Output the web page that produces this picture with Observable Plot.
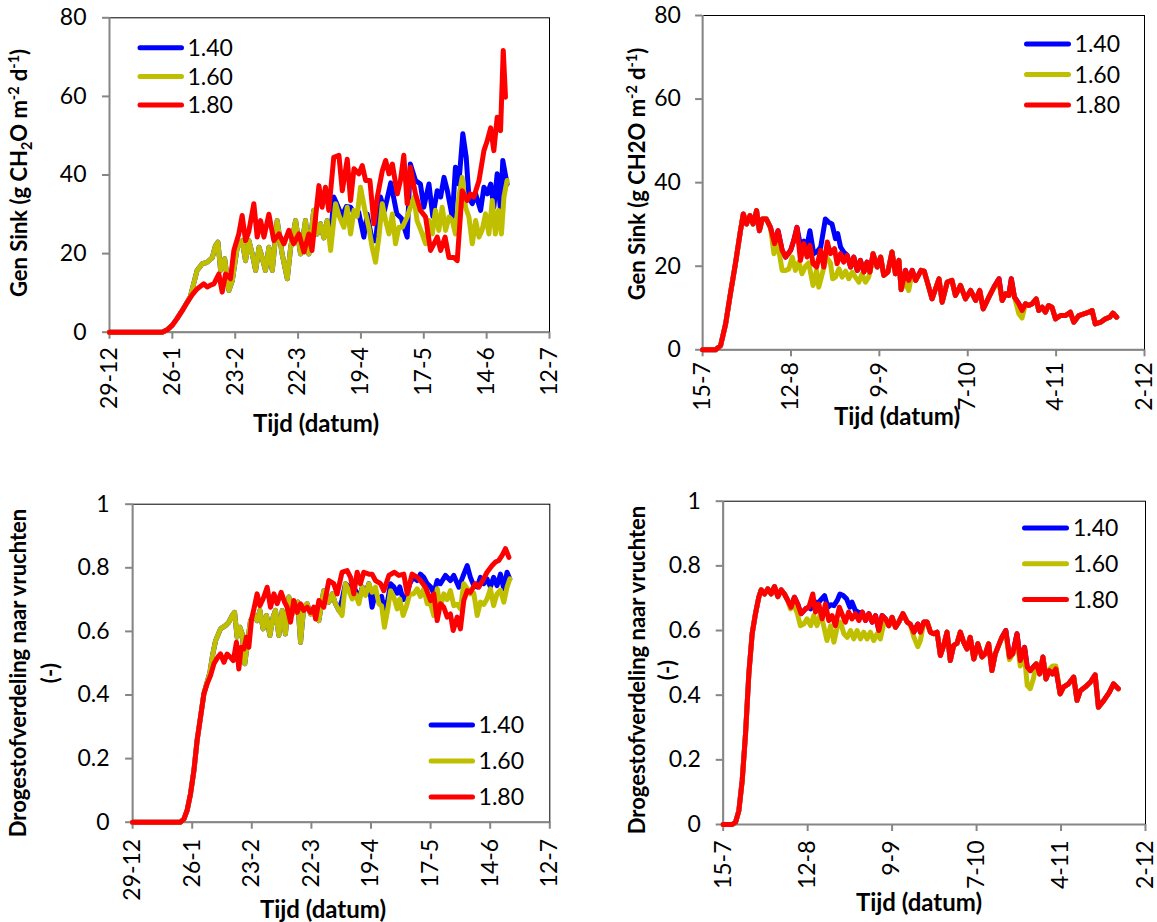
<!DOCTYPE html>
<html>
<head>
<meta charset="utf-8">
<script src="https://cdn.jsdelivr.net/npm/d3@7"></script>
<script src="https://cdn.jsdelivr.net/npm/@observablehq/plot@0.6"></script>
<style>
  body { margin: 0; background: #fff; }
  #wrap { position: relative; width: 1157px; height: 922px; overflow: hidden; background: #fff; font-family: Lato, "Open Sans", sans-serif; }
</style>
</head>
<body>
<div id="wrap"></div>
<script>
// ---------------- DATA ----------------
const seriesNames = ["1.40", "1.60", "1.80"];
const seriesColors = ["#0000FF", "#BFBF00", "#FF0000"];

// x tick labels (every 28 days)
const xTicksSpring = ["29-12", "26-1", "23-2", "22-3", "19-4", "17-5", "14-6", "12-7"];
const xTicksAutumn = ["15-7", "12-8", "9-9", "7-10", "4-11", "2-12"];
// y ticks
const yTicksSink = [0, 20, 40, 60, 80];
const yTicksSinkLabels = ["0", "20", "40", "60", "80"];
const yTicksFrac = [0, 0.2, 0.4, 0.6, 0.8, 1];
const yTicksFracLabels = ["0", "0.2", "0.4", "0.6", "0.8", "1"];

// [day since first tick, value]
// Panel 1: Gen Sink, spring crop (from 29-12)
const sinkSpring140 = [[0,0],[23.5,0],[25.7,0.6],[28,1.8],[30,3.4],[32.3,5.4],[34.6,7.6],[36,9],[39,15.7],[41.3,17.4],[43.5,17.8],[45.8,19],[47.2,22],[48.3,22.9],[49.5,15.7],[51.3,18.7],[53.2,10.6],[54.7,13.1],[56.9,21.6],[59.1,23.3],[60.6,18.2],[62.1,23.3],[63.6,19.9],[65.1,15.7],[66.6,21.6],[67.5,20],[69.5,15.7],[71,21.6],[72.5,15.7],[74.7,28.4],[76.9,19.9],[79.2,13.6],[80.7,21.6],[82.9,28.4],[85.1,19.9],[87.3,28.4],[88.8,19.9],[91,31],[92.5,25],[94,27.6],[95.5,24],[97,28.4],[98.5,24],[99.9,34.4],[101,33],[103.5,29.5],[105.5,32],[107.4,31.8],[109.6,29.7],[111,30.5],[113.3,24.2],[114.8,30.1],[117,23.3],[118.5,23.3],[120.7,34.4],[122.5,31],[125.3,38],[128,30.1],[130,29],[132.6,24.2],[134,42.8],[136.3,38.6],[138.5,37.7],[140,31.8],[142.3,37.7],[144,29.5],[146,36],[147.5,34.4],[149,39.4],[150.5,36],[152.7,29.3],[154.1,42],[155.6,37.7],[157.4,50.5],[158.9,44.5],[160.1,34.4],[161.6,32.7],[163.1,35.2],[165.3,31],[166.8,36.9],[168.3,35.2],[169.8,37.7],[171.2,31.8],[172.7,40.3],[174.2,31],[175.2,43.7],[177.1,37.7]];
const sinkSpring160 = [[0,0],[23.5,0],[25.7,0.6],[28,1.8],[30,3.4],[32.3,5.4],[34.6,7.6],[36,9],[39,15.7],[41.3,17.4],[43.5,17.8],[45.8,19],[47.2,22],[48.3,22.9],[49.5,15.7],[51.3,18.7],[53.2,10.6],[54.7,13.1],[56.9,21.6],[59.1,23.3],[60.6,18.2],[62.1,23.3],[63.6,19.9],[65.1,15.7],[66.6,21.6],[67.5,20],[69.5,15.7],[71,21.6],[72.5,15.7],[74.7,28.4],[76.9,19.9],[79.2,13.6],[80.7,21.6],[82.9,28.4],[85.1,19.9],[87.3,28.4],[88.8,19.9],[91,31],[92.5,25],[94,27.6],[95.5,24],[97,28.4],[98.5,20.8],[100.7,32.7],[102.2,29.7],[104.4,26.7],[105.9,31.8],[107.4,25],[108.9,31],[110.3,29.5],[111.8,36.9],[114.1,30.1],[115.5,26.7],[117,21.6],[118.5,17.8],[120,24.2],[121.5,32.7],[123,28.4],[124.5,25],[126,30.1],[127.4,22.5],[128.9,26.7],[130.5,26.7],[132.6,29.3],[134,31.8],[135.6,34.4],[137,28.4],[139.3,25],[140.8,22.5],[142.3,28.4],[143.8,25],[145.2,31],[146.7,25.9],[148.2,31.8],[149.7,25.9],[151.2,29.3],[152.7,28.4],[154.1,25],[155.6,34.4],[157.1,39.4],[158.6,31.8],[160.1,29.3],[161.6,22.5],[163.1,28.4],[164.6,24.2],[166,26],[167.5,30.1],[169,25],[170.5,33.5],[171.9,25],[173.3,31],[174.6,25],[175.7,34.4],[177.1,38.6]];
const sinkSpring180 = [[0,0],[23.5,0],[25.7,0.6],[28,1.8],[30,3.4],[32.3,5.4],[34.6,7.6],[36.8,9.5],[39,11],[42,12.3],[43.5,11.5],[45,12],[46.5,12.3],[48.7,14.8],[50.2,10.2],[51.7,14.8],[53.9,13.6],[55.4,20.8],[57.6,25],[59.1,29.7],[60.6,23.3],[62,25.5],[64.3,32.7],[65.8,24.2],[67.3,28.4],[68.8,24.2],[71,30],[73.2,23.3],[75.5,25],[77.7,22.5],[79.9,25.9],[82,22.5],[84.4,25],[86.6,20.4],[88.8,25],[90.2,20.8],[93.3,37.3],[94.7,31.8],[96.2,36.9],[97.7,31],[99.9,44.5],[102.2,45],[103.7,36],[105.9,44],[107.4,33.5],[108.9,41.6],[111.1,40.3],[112.6,42.4],[114.1,38.6],[116,38.6],[117.8,27.6],[119.3,34.4],[121.5,41],[123,43.7],[124.5,40.3],[126,42.8],[128.2,35.2],[129.6,38.6],[131.1,45],[132.6,32.7],[134,42],[136.3,35.2],[138.5,31],[140.8,29.3],[143,20.8],[144.5,22.5],[146,24.2],[147.5,20.8],[149.5,24.2],[151.2,19],[153.4,19],[154.9,18.2],[157.1,36],[159.3,33.5],[160.8,35.2],[162.3,34.4],[164.6,38.6],[166.8,46.2],[168.3,48.8],[169.8,52],[171.2,46.2],[172.7,54.7],[174.2,51.3],[175.4,71.7],[176.4,59.8]];

// Panel 2: Gen Sink, autumn crop (from 15-7)
const sinkAutumn140 = [[0,0],[4.1,0],[5.7,1],[7.3,6.2],[8.8,13.4],[10.4,20.6],[12,28.5],[12.9,32.5],[13.9,30.1],[15,32.1],[16,30.1],[17.1,33.3],[18,28.5],[18.9,31.3],[20.2,31.3],[21.5,29.3],[22.8,25.4],[23.9,28.5],[25.2,23.8],[26.3,22.2],[27.9,23.8],[28.9,26.2],[29.9,29.3],[31,25],[32.1,26],[33.1,25],[34,28.5],[35.2,23],[36.3,23.5],[37.4,24.5],[38.9,31.3],[40,30.5],[41,30.1],[42.1,26.6],[42.8,27.8],[43.7,24.6],[44.7,23.4],[45.8,22.6],[46.9,19.8],[47.9,22.2],[49,19],[50,21.4],[51.1,18.6],[52.1,21],[53,18.6],[54,23],[55.3,19.8],[56.4,22.2],[57.4,17.8],[58.7,18.6],[60,23.4],[61.1,18.2],[62.2,21.4],[62.9,14.4],[64.3,19],[65.3,16.6],[66.4,19],[67.5,16.6],[69.2,19],[70.2,18.8],[71.2,16.2],[72.7,12.2],[74.9,17],[75.9,11.4],[77.5,16.2],[79,16.6],[80.1,13],[81.7,15.4],[83.3,12.2],[84.9,14.2],[86.5,11.8],[87.8,14.2],[88.9,9.8],[90.7,12.6],[92.3,15],[93.9,17],[94.9,11.8],[96,13.4],[97,13],[97.8,17],[98.8,12.6],[100.2,11],[101.2,9.4],[102.3,11],[103.3,10.6],[104.4,11],[105.7,12.2],[106.5,9.4],[107.6,10.2],[108.6,9],[109.6,10.6],[110.7,10.2],[111.8,7.4],[113.4,8.2],[115,8.2],[116.5,9],[117.6,6.6],[119.2,8.2],[120.8,8.6],[122.4,9],[123.4,9.4],[124.4,6.2],[126.1,6.6],[127.6,7.4],[129,7.8],[130,8.8],[131.2,7.8]];
const sinkAutumn160 = [[0,0],[4.1,0],[5.7,1],[7.3,6.2],[8.8,13.4],[10.4,20.6],[12,28.5],[12.9,32.5],[13.9,30.1],[15,32.1],[16,30.1],[17.1,33.3],[18,28.5],[18.9,31.3],[20.2,31.3],[21.5,29.3],[22.6,23],[23.9,25],[25.2,19],[26.3,19],[27.3,19.3],[28.4,22.2],[29.4,19],[30.5,21],[31.5,18.2],[32.6,20],[33.6,20.8],[35,15.4],[36.1,19],[36.8,15],[37.9,18.2],[39.2,22.2],[40.5,20.8],[41.2,17],[42.1,17.4],[43.2,19.4],[44.2,17.4],[45.3,18.8],[46.3,17],[47.4,18.6],[48.4,17.4],[49.5,16.2],[50.5,18.2],[51.6,16.2],[52.6,17.4],[53.6,20.6],[54,23],[55.3,19.8],[56.4,22.2],[57.4,17.8],[58.7,18.6],[60,23.4],[61.1,18.2],[62.2,21.4],[62.9,14.4],[64.3,16],[65.3,14.2],[66.4,18.6],[67.5,16.6],[69.2,19],[70.2,18.8],[71.2,16.2],[72.7,12.2],[74.9,17],[75.9,11.4],[77.5,16.2],[79,16.6],[80.1,13],[81.7,15.4],[83.3,12.2],[84.9,14.2],[86.5,11.8],[87.8,14.2],[88.9,9.8],[90.7,12.6],[92.3,15],[93.9,15.8],[94.9,11.8],[96,13.4],[97,13],[97.8,15.5],[98.8,12.6],[100.2,8.6],[101.2,7.6],[102.3,11],[103.3,10.6],[104.4,11],[105.7,12.2],[106.5,9.4],[107.6,10.2],[108.6,9],[109.6,10.6],[110.7,10.2],[111.8,7.4],[113.4,8.2],[115,8.2],[116.5,9],[117.6,6.6],[119.2,8.2],[120.8,8.6],[122.4,9],[123.4,9.4],[124.4,6.2],[126.1,6.6],[127.6,7.4],[129,7.8],[130,8.8],[131.2,7.8]];
const sinkAutumn180 = [[0,0],[4.1,0],[5.7,1],[7.3,6.2],[8.8,13.4],[10.4,20.6],[12,28.5],[12.9,32.5],[13.9,30.1],[15,32.1],[16,30.1],[17.1,33.3],[18,28.5],[18.9,31.3],[20.2,31.3],[21.5,29.3],[22.8,25.4],[23.9,28.5],[25.2,23.8],[26.3,22.2],[27.9,23.8],[28.9,26.2],[29.9,29.3],[31,21.4],[32.1,25.4],[33.1,22.2],[34,25],[35,20.6],[36.1,19.8],[37.4,23.8],[38.4,19.8],[39.5,25.8],[40.5,23],[41.8,24.2],[42.6,20.6],[43.7,23],[44.7,21],[45.8,22.6],[46.9,19.8],[47.9,22.2],[49,19],[50,21.4],[51.1,18.6],[52.1,21],[53,18.6],[54,23],[55.3,19.8],[56.4,22.2],[57.4,17.8],[58.7,18.6],[60,23.4],[61.1,18.2],[62.2,21.4],[62.9,14.4],[64.3,19],[65.3,16.6],[66.4,19],[67.5,16.6],[69.2,19],[70.2,18.8],[71.2,16.2],[72.7,12.2],[74.9,17],[75.9,11.4],[77.5,16.2],[79,16.6],[80.1,13],[81.7,15.4],[83.3,12.2],[84.9,14.2],[86.5,11.8],[87.8,14.2],[88.9,9.8],[90.7,12.6],[92.3,15],[93.9,17],[94.9,11.8],[96,13.4],[97,13],[97.8,17],[98.8,12.6],[100.2,11],[101.2,9.4],[102.3,11],[103.3,10.6],[104.4,11],[105.7,12.2],[106.5,9.4],[107.6,10.2],[108.6,9],[109.6,10.6],[110.7,10.2],[111.8,7.4],[113.4,8.2],[115,8.2],[116.5,9],[117.6,6.6],[119.2,8.2],[120.8,8.6],[122.4,9],[123.4,9.4],[124.4,6.2],[126.1,6.6],[127.6,7.4],[129,7.8],[130,8.8],[131.2,7.8]];

// Panel 3: dry matter partitioning to fruits, spring crop
const fracSpring140 = [[0,0],[22.5,0],[24.1,0.01],[25.6,0.037],[27.2,0.089],[28.8,0.162],[30.3,0.257],[31.9,0.33],[33.5,0.404],[35,0.44],[36.3,0.47],[37.7,0.53],[39,0.571],[41.3,0.608],[43.6,0.618],[45.2,0.629],[46.8,0.65],[47.9,0.66],[49.1,0.582],[50.4,0.613],[51.5,0.592],[52.7,0.498],[54.1,0.571],[55.4,0.634],[57,0.65],[58.5,0.634],[59.8,0.666],[61.3,0.608],[62.9,0.65],[64.5,0.587],[66,0.645],[67.1,0.666],[68.7,0.587],[70.3,0.666],[71.8,0.592],[73.4,0.708],[75,0.655],[76.5,0.687],[77.6,0.692],[78.9,0.566],[80.4,0.676],[82,0.687],[83.6,0.655],[85.1,0.66],[86,0.645],[87.5,0.634],[89.8,0.728],[92.2,0.692],[93.8,0.718],[95.3,0.687],[96.9,0.666],[98.4,0.7],[100,0.75],[101.6,0.74],[103.2,0.72],[104.7,0.73],[106.3,0.7],[107.9,0.74],[109.4,0.72],[111,0.75],[112.5,0.676],[114.1,0.72],[115.7,0.7],[117,0.71],[118.3,0.66],[119.9,0.7],[121.2,0.75],[122.7,0.74],[124.3,0.72],[125.5,0.74],[127.1,0.7],[128.7,0.71],[130.2,0.75],[131.8,0.77],[133.7,0.76],[135.2,0.78],[136.8,0.77],[138.4,0.75],[140,0.74],[141.5,0.72],[143.1,0.76],[144.6,0.75],[147,0.776],[149.3,0.76],[150.9,0.776],[153.3,0.739],[155.6,0.78],[157.2,0.807],[158.7,0.77],[160.3,0.744],[161.9,0.74],[163.4,0.77],[165,0.75],[166.5,0.765],[168.1,0.74],[169.6,0.77],[171.2,0.744],[172.8,0.78],[174.4,0.734],[175.9,0.786],[177.2,0.765]];
const fracSpring160 = [[0,0],[22.5,0],[24.1,0.01],[25.6,0.037],[27.2,0.089],[28.8,0.162],[30.3,0.257],[31.9,0.33],[33.5,0.404],[35,0.44],[36.3,0.47],[37.7,0.53],[39,0.571],[41.3,0.608],[43.6,0.618],[45.2,0.629],[46.8,0.65],[47.9,0.66],[49.1,0.582],[50.4,0.613],[51.5,0.592],[52.7,0.498],[54.1,0.571],[55.4,0.634],[57,0.65],[58.5,0.634],[59.8,0.666],[61.3,0.608],[62.9,0.65],[64.5,0.587],[66,0.645],[67.1,0.666],[68.7,0.587],[70.3,0.666],[71.8,0.592],[73.4,0.708],[75,0.655],[76.5,0.687],[77.6,0.692],[78.9,0.566],[80.4,0.676],[82,0.687],[83.6,0.655],[85.1,0.66],[86,0.645],[87.5,0.634],[89.8,0.728],[92.2,0.692],[93.8,0.718],[95.3,0.687],[96.9,0.666],[98.4,0.65],[100,0.75],[101.6,0.728],[103.2,0.702],[104.7,0.718],[106.3,0.687],[107.9,0.739],[109.4,0.713],[111,0.75],[112.5,0.723],[114.1,0.739],[115.7,0.687],[117,0.68],[118.3,0.613],[119.9,0.671],[121.2,0.728],[122.7,0.708],[124.3,0.671],[125.5,0.702],[127.1,0.65],[128.7,0.68],[130.2,0.718],[132,0.718],[133.7,0.734],[135.2,0.71],[136.8,0.734],[138.4,0.687],[140,0.687],[141.5,0.65],[143.1,0.734],[144.6,0.676],[146.2,0.718],[147.8,0.7],[149.3,0.728],[150.9,0.681],[152.5,0.685],[154,0.671],[155.6,0.75],[157.2,0.735],[158.7,0.718],[160.3,0.72],[161.9,0.65],[163.4,0.692],[165,0.685],[166.5,0.702],[168.1,0.734],[169.6,0.681],[171.2,0.718],[172.8,0.73],[174.4,0.692],[175.9,0.739],[177.2,0.765]];
const fracSpring180 = [[0,0],[22.5,0],[24.1,0.01],[25.6,0.037],[27.2,0.089],[28.8,0.162],[30.3,0.257],[31.9,0.33],[33.5,0.404],[35,0.435],[36.6,0.461],[38.2,0.498],[40,0.519],[41.3,0.529],[42.9,0.503],[44.4,0.529],[45.9,0.519],[47.3,0.508],[48.8,0.566],[49.9,0.482],[51,0.55],[52.3,0.545],[53.5,0.582],[54.6,0.55],[55.9,0.639],[57,0.671],[58.5,0.718],[59.8,0.681],[61.3,0.702],[63.2,0.739],[64.8,0.676],[66.4,0.718],[67.9,0.687],[69.8,0.723],[71.4,0.692],[72.6,0.676],[74.2,0.629],[75.7,0.697],[77.3,0.66],[78.9,0.687],[80.4,0.666],[82,0.676],[83.6,0.66],[85.1,0.676],[86,0.639],[87.5,0.697],[89.8,0.676],[92.2,0.76],[94.5,0.75],[96.1,0.718],[98.4,0.786],[100.8,0.791],[102.4,0.77],[103.9,0.718],[105.5,0.786],[107,0.75],[108.6,0.786],[111,0.78],[112.5,0.78],[114.1,0.76],[116.5,0.75],[118,0.728],[120.4,0.776],[123,0.786],[125.1,0.776],[127.4,0.78],[129,0.718],[131.3,0.78],[133.7,0.77],[135.2,0.76],[137.6,0.739],[140,0.697],[141.5,0.718],[143.1,0.634],[144.6,0.687],[146.2,0.676],[147.8,0.645],[149.3,0.655],[150.6,0.603],[152.5,0.645],[154,0.608],[155.6,0.697],[157.2,0.728],[158.7,0.723],[161,0.75],[162.6,0.739],[164.9,0.765],[166.5,0.786],[168.9,0.807],[170.5,0.818],[172,0.823],[173.6,0.839],[175.2,0.86],[176.8,0.833]];

// Panel 4: dry matter partitioning to fruits, autumn crop
const fracAutumn140 = [[0,0],[3,0],[4.1,0.007],[5.2,0.043],[6.3,0.136],[7.4,0.28],[8.5,0.466],[9.6,0.59],[10.7,0.652],[11.8,0.703],[12.6,0.726],[13.7,0.713],[14.8,0.729],[15.9,0.713],[17,0.736],[18.1,0.705],[19.2,0.726],[20.3,0.713],[21.4,0.693],[22.5,0.672],[23.6,0.703],[24.7,0.682],[25.8,0.652],[27.3,0.667],[28.4,0.672],[29,0.667],[30,0.693],[31.1,0.682],[32.2,0.693],[33.6,0.708],[34.7,0.672],[35.7,0.68],[36.7,0.677],[37.8,0.693],[38.7,0.713],[39.8,0.708],[40.9,0.698],[42,0.672],[42.7,0.688],[43.8,0.662],[45,0.655],[46.1,0.657],[47.2,0.631],[48.3,0.652],[49.4,0.626],[50.5,0.646],[51.6,0.6],[52.7,0.646],[53.8,0.636],[54.9,0.615],[56,0.641],[57.1,0.61],[58.2,0.626],[59.6,0.652],[61,0.626],[62,0.62],[63.2,0.595],[64.5,0.62],[65.4,0.595],[66.5,0.626],[67.6,0.626],[68.7,0.595],[69.8,0.59],[70.9,0.595],[72,0.523],[73.1,0.554],[74.2,0.595],[75.3,0.507],[76.4,0.554],[77.5,0.56],[78.6,0.595],[79.7,0.564],[80.8,0.543],[81.9,0.579],[83.1,0.512],[84.4,0.559],[85.8,0.518],[86.9,0.528],[88,0.559],[89.1,0.476],[90.2,0.528],[91.3,0.554],[92.4,0.579],[93.7,0.6],[94.9,0.518],[96,0.528],[97.4,0.59],[98.5,0.507],[99.9,0.548],[100.8,0.487],[101.8,0.476],[102.8,0.487],[103.8,0.497],[104.9,0.466],[106,0.518],[107,0.45],[108.1,0.476],[109.2,0.466],[110.3,0.481],[111.7,0.404],[112.8,0.425],[114.5,0.435],[116.2,0.456],[117.3,0.384],[118.4,0.414],[120,0.425],[121.7,0.44],[123.3,0.463],[124.4,0.363],[126.2,0.384],[128,0.409],[129.4,0.435],[131,0.42]];
const fracAutumn160 = [[0,0],[3,0],[4.1,0.007],[5.2,0.043],[6.3,0.136],[7.4,0.28],[8.5,0.466],[9.6,0.59],[10.7,0.652],[11.8,0.703],[12.6,0.726],[13.7,0.713],[14.8,0.729],[15.9,0.713],[17,0.736],[18.1,0.705],[19.2,0.726],[20.3,0.713],[21.4,0.693],[22.3,0.667],[23.4,0.68],[24.5,0.655],[25.6,0.615],[26.7,0.62],[27.8,0.636],[29,0.615],[30,0.646],[31.1,0.615],[32.2,0.652],[33.3,0.615],[34.4,0.569],[35.6,0.615],[36.7,0.564],[37.8,0.61],[38.9,0.626],[40,0.59],[41.1,0.579],[42.2,0.6],[43.3,0.574],[44.4,0.6],[45.5,0.574],[46.6,0.595],[47.7,0.574],[48.8,0.595],[49.9,0.569],[51,0.59],[52.1,0.574],[53.2,0.62],[53.8,0.636],[54.9,0.615],[56,0.641],[57.1,0.61],[58.2,0.626],[59.6,0.652],[61,0.626],[62,0.62],[63.2,0.58],[64.5,0.55],[65.4,0.57],[66.5,0.626],[67.6,0.626],[68.7,0.595],[69.8,0.59],[70.9,0.595],[72,0.523],[73.1,0.554],[74.2,0.595],[75.3,0.507],[76.4,0.554],[77.5,0.56],[78.6,0.595],[79.7,0.564],[80.8,0.543],[81.9,0.579],[83.1,0.512],[84.4,0.559],[85.8,0.518],[86.9,0.528],[88,0.559],[89.1,0.476],[90.2,0.528],[91.3,0.554],[92.4,0.579],[93.7,0.59],[94.9,0.51],[96,0.528],[97.4,0.57],[98.5,0.49],[99.9,0.52],[100.8,0.43],[101.8,0.42],[102.8,0.45],[103.8,0.497],[104.9,0.466],[106,0.518],[107,0.45],[108.1,0.48],[109.2,0.49],[110.3,0.49],[111.7,0.404],[112.8,0.425],[114.5,0.435],[116.2,0.456],[117.3,0.384],[118.4,0.414],[120,0.425],[121.7,0.44],[123.3,0.463],[124.4,0.363],[126.2,0.384],[128,0.409],[129.4,0.435],[131,0.42]];
const fracAutumn180 = [[0,0],[3,0],[4.1,0.007],[5.2,0.043],[6.3,0.136],[7.4,0.28],[8.5,0.466],[9.6,0.59],[10.7,0.652],[11.8,0.703],[12.6,0.726],[13.7,0.713],[14.8,0.729],[15.9,0.713],[17,0.736],[18.1,0.705],[19.2,0.726],[20.3,0.713],[21.4,0.693],[22.5,0.672],[23.6,0.703],[24.7,0.682],[25.8,0.652],[27.3,0.667],[28.4,0.672],[29.7,0.713],[30.6,0.657],[31.7,0.682],[32.8,0.636],[33.9,0.682],[35,0.631],[36.1,0.646],[37.2,0.615],[38.5,0.672],[39.6,0.646],[40.5,0.626],[41.6,0.657],[42.7,0.636],[43.8,0.652],[45,0.631],[46.1,0.657],[47.2,0.631],[48.3,0.652],[49.4,0.626],[50.5,0.646],[51.6,0.6],[52.7,0.646],[53.8,0.636],[54.9,0.615],[56,0.641],[57.1,0.61],[58.2,0.626],[59.6,0.652],[61,0.626],[62,0.62],[63.2,0.595],[64.5,0.62],[65.4,0.595],[66.5,0.626],[67.6,0.626],[68.7,0.595],[69.8,0.59],[70.9,0.595],[72,0.523],[73.1,0.554],[74.2,0.595],[75.3,0.507],[76.4,0.554],[77.5,0.56],[78.6,0.595],[79.7,0.564],[80.8,0.543],[81.9,0.579],[83.1,0.512],[84.4,0.559],[85.8,0.518],[86.9,0.528],[88,0.559],[89.1,0.476],[90.2,0.528],[91.3,0.554],[92.4,0.579],[93.7,0.6],[94.9,0.518],[96,0.528],[97.4,0.59],[98.5,0.507],[99.9,0.548],[100.8,0.487],[101.8,0.476],[102.8,0.487],[103.8,0.497],[104.9,0.466],[106,0.518],[107,0.45],[108.1,0.476],[109.2,0.466],[110.3,0.481],[111.7,0.404],[112.8,0.425],[114.5,0.435],[116.2,0.456],[117.3,0.384],[118.4,0.414],[120,0.425],[121.7,0.44],[123.3,0.463],[124.4,0.363],[126.2,0.384],[128,0.409],[129.4,0.435],[131,0.42]];

// ---------------- RENDER ----------------
const gray = "#868686";
const FONT = "Lato, 'Open Sans', sans-serif";
const TICK_FS = 23, LEGEND_FS = 23, YTITLE_FS = 22, XTITLE_FS = 24;
const LINE_W = 5;
const wrap = document.getElementById("wrap");

function makePanel(cfg) {
  const rows = cfg.series.flatMap(([s, pairs]) => pairs.map(([d, v]) => ({s, d, v})));
  const xTicks = cfg.xLabels.map((_, i) => i * 28);
  const xMax = xTicks[xTicks.length - 1];
  const yMax = cfg.yTicks[cfg.yTicks.length - 1];
  const svg = Plot.plot({
    width: cfg.width,
    height: cfg.height,
    marginLeft: cfg.mL, marginRight: cfg.mR, marginTop: cfg.mT, marginBottom: cfg.mB,
    style: {background: "transparent", overflow: "visible", fontFamily: FONT},
    x: {domain: [0, xMax]},
    y: {domain: [0, yMax]},
    color: {domain: seriesNames, range: seriesColors},
    marks: [
      Plot.frame({stroke: "black", strokeWidth: 1}),
      Plot.axisY(cfg.yTicks, {tickSize: 7, tickPadding: cfg.yPad, stroke: gray, strokeWidth: 2, fill: "black", fontSize: TICK_FS, label: null, tickFormat: d => cfg.yLabels[cfg.yTicks.indexOf(d)]}),
      Plot.axisX(xTicks, {tickSize: 7, tickPadding: cfg.xPad, tickRotate: -90, stroke: gray, strokeWidth: 2, fill: "black", fontSize: TICK_FS, label: null, tickFormat: d => cfg.xLabels[xTicks.indexOf(d)]}),
      Plot.ruleX([0], {stroke: gray, strokeWidth: 2}),
      Plot.ruleY([0], {stroke: gray, strokeWidth: 2}),
      Plot.line(rows, {x: "d", y: "v", z: "s", stroke: "s", strokeWidth: LINE_W, strokeLinejoin: "round", strokeLinecap: "round"})
    ]
  });
  svg.style.position = "absolute";
  svg.style.left = cfg.left + "px";
  svg.style.top = cfg.top + "px";
  const g = d3.select(svg);

  // y-axis title (rotated, possibly multi-line, with sub/superscripts)
  cfg.yTitle.forEach(line => {
    const t = g.append("text")
      .attr("transform", `translate(${line.x},${line.y}) rotate(-90)`)
      .attr("text-anchor", "middle")
      .attr("font-family", FONT).attr("font-weight", "bold").attr("font-size", YTITLE_FS)
      .attr("fill", "black");
    let shift = 0;
    line.parts.forEach(p => {
      const ts = t.append("tspan").text(p.t);
      let target = 0.35 * YTITLE_FS;
      if (p.sub) { ts.attr("font-size", YTITLE_FS * 0.65); target += 5; }
      if (p.sup) { ts.attr("font-size", YTITLE_FS * 0.65); target -= 8; }
      ts.attr("dy", target - shift);
      shift = target;
    });
  });
  // x-axis title
  g.append("text")
    .attr("x", cfg.xTitle.x).attr("y", cfg.xTitle.y).attr("dy", "0.35em")
    .attr("text-anchor", "middle")
    .attr("font-family", FONT).attr("font-weight", "bold").attr("font-size", XTITLE_FS)
    .attr("fill", "black")
    .text("Tijd (datum)");
  // legend
  const lg = cfg.legend;
  seriesNames.forEach((name, i) => {
    const y = lg.y0 + i * lg.dy;
    g.append("line").attr("x1", lg.x1 + LINE_W / 2).attr("x2", lg.x2 - LINE_W / 2).attr("y1", y).attr("y2", y)
      .attr("stroke", seriesColors[i]).attr("stroke-width", LINE_W).attr("stroke-linecap", "round");
    g.append("text").attr("x", lg.tx).attr("y", y).attr("dy", "0.36em")
      .attr("text-anchor", "start")
      .attr("font-family", FONT).attr("font-size", LEGEND_FS).attr("fill", "black").text(name);
  });
  wrap.appendChild(svg);
}

const sinkTitle1 = [{t: "Gen Sink (g CH"}, {t: "2", sub: true}, {t: "O m"}, {t: "-2", sup: true}, {t: " d"}, {t: "-1", sup: true}, {t: ")"}];
const sinkTitle2 = [{t: "Gen Sink (g CH2O m"}, {t: "-2", sup: true}, {t: " d"}, {t: "-1", sup: true}, {t: ")"}];

makePanel({
  left: 0, top: 0, width: 578, height: 461, mL: 109, mR: 29, mT: 17.3, mB: 129.3,
  xLabels: xTicksSpring, yTicks: yTicksSink, yLabels: yTicksSinkLabels, yPad: 16, xPad: 8,
  series: [["1.40", sinkSpring140], ["1.60", sinkSpring160], ["1.80", sinkSpring180]],
  yTitle: [{x: 19.6, y: 173, parts: sinkTitle1}],
  xTitle: {x: 316, y: 424},
  legend: {x1: 137.5, x2: 184, tx: 187.5, y0: 47.7, dy: 28.7}
});
makePanel({
  left: 578, top: 0, width: 579, height: 461, mL: 124.1, mR: 13, mT: 15, mB: 111.7,
  xLabels: xTicksAutumn, yTicks: yTicksSink, yLabels: yTicksSinkLabels, yPad: 14.7, xPad: 5.4,
  series: [["1.40", sinkAutumn140], ["1.60", sinkAutumn160], ["1.80", sinkAutumn180]],
  yTitle: [{x: 59, y: 174, parts: sinkTitle2}],
  xTitle: {x: 319, y: 417},
  legend: {x1: 446, x2: 493, tx: 496.6, y0: 44, dy: 30.5}
});
makePanel({
  left: 0, top: 461, width: 578, height: 461, mL: 132.1, mR: 28.7, mT: 42.7, mB: 100.3,
  xLabels: xTicksSpring, yTicks: yTicksFrac, yLabels: yTicksFracLabels, yPad: 16, xPad: 9.6,
  series: [["1.40", fracSpring140], ["1.60", fracSpring160], ["1.80", fracSpring180]],
  yTitle: [{x: 18, y: 212, parts: [{t: "Drogestofverdeling naar vruchten"}]}, {x: 50, y: 212, parts: [{t: "(-)"}]}],
  xTitle: {x: 323, y: 449},
  legend: {x1: 428.6, x2: 475, tx: 478.6, y0: 264, dy: 36}
});
makePanel({
  left: 578, top: 461, width: 579, height: 461, mL: 144.7, mR: 12, mT: 39.7, mB: 98,
  xLabels: xTicksAutumn, yTicks: yTicksFrac, yLabels: yTicksFracLabels, yPad: 15.4, xPad: 9,
  series: [["1.40", fracAutumn140], ["1.60", fracAutumn160], ["1.80", fracAutumn180]],
  yTitle: [{x: 59, y: 209, parts: [{t: "Drogestofverdeling naar vruchten"}]}, {x: 89.7, y: 209, parts: [{t: "(-)"}]}],
  xTitle: {x: 341, y: 442},
  legend: {x1: 444, x2: 491, tx: 495, y0: 67, dy: 35.7}
});
</script>
</body>
</html>
